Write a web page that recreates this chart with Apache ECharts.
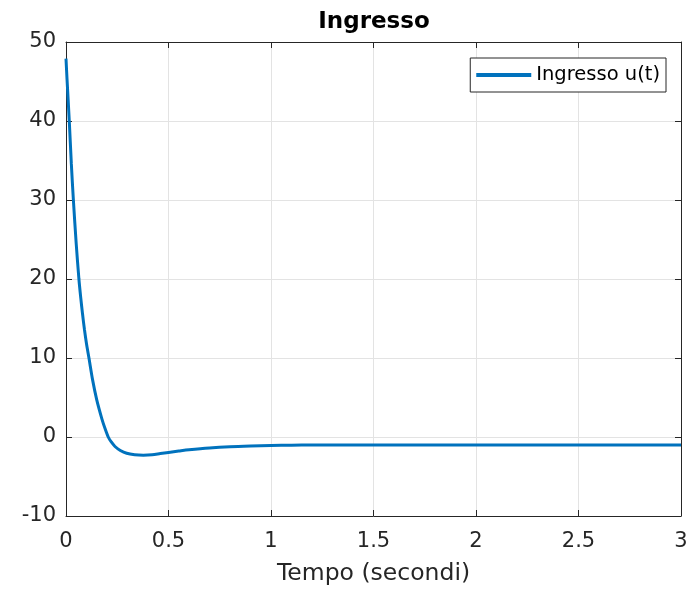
<!DOCTYPE html>
<html>
<head>
<meta charset="utf-8">
<script src="https://cdn.jsdelivr.net/npm/echarts@6/dist/echarts.min.js"></script>
<style>html,body{margin:0;padding:0;background:#fff;}#c{width:698px;height:595px;}</style>
</head>
<body>
<div id="c"></div>
<script>
const timeValues = [0, 0.005, 0.016, 0.026, 0.036, 0.05, 0.063, 0.072, 0.081, 0.09, 0.1, 0.112, 0.13, 0.15, 0.175, 0.19, 0.206, 0.22, 0.239, 0.265, 0.296, 0.335, 0.377, 0.42, 0.46, 0.5, 0.55, 0.6, 0.7, 0.8, 0.9, 1.0, 1.1, 1.2, 1.5, 2.0, 2.5, 3.0];
const inputValues = [47.9, 45.3, 40, 34.6, 30, 24.4, 20, 17.6, 15.5, 13.6, 11.8, 10, 7.2, 4.7, 2.3, 1.1, 0, -0.6, -1.2, -1.7, -2.06, -2.24, -2.3, -2.25, -2.1, -1.95, -1.78, -1.62, -1.38, -1.22, -1.13, -1.07, -1.04, -1.02, -1.0, -1.0, -1.0, -1.0];
const seriesName = 'Ingresso u(t)';
const titleText = 'Ingresso';
const xAxisName = 'Tempo (secondi)';

const points = timeValues.map((t, i) => [t, inputValues[i]]);
const FONT = 'DejaVu Sans, Liberation Sans, Arial, sans-serif';
const TXT = '#262626';

const chart = echarts.init(document.getElementById('c'), null, {renderer: 'canvas'});
const axisCommon = {
  type: 'value',
  axisLine: {show: true, onZero: false, lineStyle: {color: TXT, width: 1}},
  axisTick: {show: true, inside: true, length: 6, lineStyle: {color: TXT, width: 1}},
  splitLine: {show: false},
};
chart.setOption({
  animation: false,
  backgroundColor: '#fff',
  title: {
    text: titleText, left: 369, textAlign: 'center', top: 6,
    textStyle: {fontFamily: FONT, fontSize: 23, fontWeight: 'bold', color: '#000'}
  },
  legend: {
    right: 32, top: 58, orient: 'vertical',
    backgroundColor: '#fff', borderColor: TXT, borderWidth: 1, borderRadius: 0,
    padding: [6, 6, 6, 6], itemWidth: 55, itemHeight: 4, itemGap: 4,
    textStyle: {fontFamily: FONT, fontSize: 19.5, color: '#000', lineHeight: 22, padding: [0, 0, 0, 0]},
    icon: 'rect',
    data: [{name: seriesName}]
  },
  grid: {left: 66, right: 17, top: 42, bottom: 79, containLabel: false},
  xAxis: [
    Object.assign({}, axisCommon, {
      min: 0, max: 3, interval: 0.5, position: 'bottom',
      name: xAxisName, nameLocation: 'middle', nameGap: 46,
      nameTextStyle: {fontFamily: FONT, fontSize: 23.5, color: TXT},
      axisLabel: {fontFamily: FONT, fontSize: 21, color: TXT, margin: 15},
      splitLine: {show: true, lineStyle: {color: '#e3e3e3', width: 1}}
    }),
    Object.assign({}, axisCommon, {
      min: 0, max: 3, interval: 0.5, position: 'top',
      axisLabel: {show: false}
    })
  ],
  yAxis: [
    Object.assign({}, axisCommon, {
      min: -10, max: 50, interval: 10, position: 'left',
      axisLabel: {fontFamily: FONT, fontSize: 21, color: TXT, margin: 10},
      splitLine: {show: true, lineStyle: {color: '#e3e3e3', width: 1}}
    }),
    Object.assign({}, axisCommon, {
      min: -10, max: 50, interval: 10, position: 'right',
      axisLabel: {show: false}
    })
  ],
  series: [{
    name: seriesName, type: 'line', data: points, smooth: 0.3,
    showSymbol: false, symbol: 'none', xAxisIndex: 0, yAxisIndex: 0,
    lineStyle: {color: '#0072BD', width: 3}, itemStyle: {color: '#0072BD'},
    clip: true
  }]
});
</script>
</body>
</html>
